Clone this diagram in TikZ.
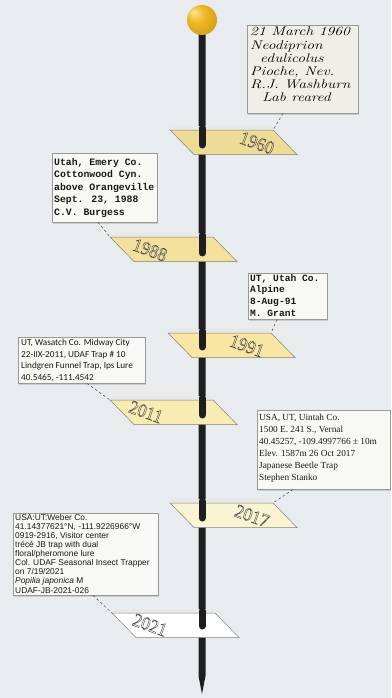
\documentclass[tikz,border=0pt]{standalone}
\usepackage{fontspec}
\usetikzlibrary{shadows,calc}
\newfontfamily\handfnt[FakeStretch=1.25]{Latin Modern Roman}
\newfontfamily\monofnt{Liberation Mono}
\newfontfamily\carlfnt{Carlito}
\newfontfamily\timesfnt{Liberation Serif}
\newfontfamily\arialfnt{Liberation Sans}
\newfontfamily\yearfnt[FakeStretch=0.92]{Liberation Serif}
\definecolor{bgc}{HTML}{E9ECEE}
\definecolor{stemc}{HTML}{1E1E1E}
\definecolor{goldhi}{HTML}{FBE39A}
\definecolor{goldmid}{HTML}{F0B927}
\definecolor{golddk}{HTML}{C98E12}
\definecolor{tagA}{HTML}{EEDC96}
\definecolor{tagB}{HTML}{F2E09C}
\definecolor{tagC}{HTML}{F8E6A2}
\definecolor{tagD}{HTML}{F9ECB2}
\definecolor{tagE}{HTML}{FBF4D2}
\definecolor{tagF}{HTML}{FFFFFF}
\definecolor{paperA}{HTML}{EFEEE7}
\definecolor{paperB}{HTML}{F8F8F5}
\pgfdeclareradialshading{goldball}{\pgfpoint{-14bp}{14bp}}{color(0bp)=(goldhi); color(14bp)=(goldmid); color(42bp)=(golddk); color(50bp)=(golddk)}
\newcommand{\yeartxt}[2]{\textcolor{#1}{\special{pdf:literal direct 2 Tr 0.45 w 0.33 G}#2\special{pdf:literal direct 0 Tr}}}
\begin{document}
\begin{tikzpicture}[x=1pt,y=-1pt,
  lab/.style={draw=black!40, line width=0.4pt, anchor=north west, inner sep=0pt,
    drop shadow={shadow xshift=1.2pt, shadow yshift=-1.5pt, opacity=0.3}},
  labtext/.style={anchor=north west, align=left, inner sep=0pt, text=black!90},
  conn/.style={draw=black!65, dash pattern=on 2.5pt off 2.5pt, line width=0.6pt},
  yearlab/.style={font=\yearfnt\fontsize{19}{19}\selectfont, rotate=-20, inner sep=0pt}]
\useasboundingbox (0,0) rectangle (391,698);
\fill[bgc] (0,0) rectangle (391,698);

% stem
\fill[stemc] (198.5,30) -- (205.5,30) -- (205.5,676) -- (202,694) -- (198.5,676) -- cycle;
\shade[shading=goldball] (202,20) circle (15pt);

% tags
\foreach \nm/\xl/\yt/\fc/\tx/\ty/\ys in {1960/170/130/tagA/257/143/145,
  1988/110/237/tagB/150/250/253, 1991/168/333/tagC/247/346/347,
  2011/110/400/tagD/146/412/415, 2017/170/503/tagE/252/516/518,
  2021/112/613/tagF/150/625/626}
{
  \fill[black!9] (\xl+3,\yt-4) -- (\xl+100,\yt-4) -- (\xl+103,\yt) -- (\xl,\yt) -- cycle;
  \filldraw[fill=\fc, draw=black!50, line width=0.5pt] (\xl,\yt) coordinate (t\nm-tl)
    -- (\xl+103,\yt) coordinate (t\nm-tr) -- (\xl+127,\yt+24.5) -- (\xl+24,\yt+24.5) -- cycle;
  \draw[stemc, line width=7pt, line cap=round] (202,\yt-2) -- (202,\ys);
  \node[yearlab] (y\nm) at (\tx,\ty) {\yeartxt{\fc}{\nm}};
}

% labels
\node[lab, fill=paperA, minimum width=111pt, minimum height=88pt] (l1960) at (247,25) {};
\node[labtext, text=black, font=\handfnt\itshape\fontsize{12.5}{13.2}\selectfont] (x1960) at (250,27)
  {21 March 1960\\Neodiprion\\\hspace*{10pt}edulicolus\\Pioche, Nev.\\R.J. Washburn\\\hspace*{12pt}Lab reared};

\node[lab, fill=paperB, minimum width=105pt, minimum height=69pt] (l1988) at (52,153) {};
\node[labtext, font=\monofnt\bfseries\fontsize{9.8}{12.5}\selectfont] (x1988) at (54,158)
  {Utah, Emery Co.\\Cottonwood Cyn.\\above Orangeville\\Sept. 23, 1988\\C.V. Burgess};

\node[lab, fill=paperB, minimum width=79pt, minimum height=46pt] (l1991) at (248,273) {};
\node[labtext, font=\monofnt\bfseries\fontsize{9.6}{11.7}\selectfont] (x1991) at (250,274)
  {UT, Utah Co.\\Alpine\\8-Aug-91\\M. Grant};

\node[lab, fill=paperB, minimum width=127pt, minimum height=46pt] (l2011) at (18,337) {};
\node[labtext, font=\carlfnt\fontsize{9.2}{11.7}\selectfont] (x2011) at (21,339)
  {UT, Wasatch Co. Midway City\\22-IIX-2011, UDAF Trap \# 10\\Lindgren Funnel Trap, Ips Lure\\40.5465, -111.4542};

\node[lab, fill=paperB, minimum width=133pt, minimum height=79pt] (l2017) at (257,410) {};
\node[labtext, font=\timesfnt\fontsize{9.3}{12}\selectfont] (x2017) at (259,414)
  {USA, UT, Uintah Co.\\1500 E. 241 S., Vernal\\40.45257, -109.4997766 ± 10m\\Elev. 1587m 26 Oct 2017\\Japanese Beetle Trap\\Stephen Stanko};

\node[lab, fill=paperB, minimum width=145pt, minimum height=82pt] (l2021) at (13,513) {};
\node[labtext, font=\arialfnt\fontsize{8.4}{9.1}\selectfont] (x2021) at (15,514)
  {USA:UT:Weber Co.\\41.14377621°N, -111.9226966°W\\0919-2916, Visitor center\\trécé JB trap with dual\\floral/pheromone lure\\Col. UDAF Seasonal Insect Trapper\\on 7/19/2021\\\textit{Popilia japonica} M\\UDAF-JB-2021-026};

% connectors
\coordinate (c1960) at ($(l1960.south west)+(36,0)$);
\coordinate (c1988) at ($(l1988.south west)+(46,0)$);
\coordinate (c1991) at ($(l1991.south west)+(29,0)$);
\coordinate (c2011) at ($(l2011.south west)+(69,0)$);
\coordinate (c2017) at ($(l2017.south west)+(36,0)$);
\coordinate (c2021) at ($(l2021.south west)+(80,0)$);
\draw[conn] (c1960) -- (t1960-tr);
\draw[conn] (c1988) -- (t1988-tl);
\draw[conn] (c1991) -- (t1991-tr);
\draw[conn] (c2011) -- (t2011-tl);
\draw[conn] (c2017) -- (t2017-tr);
\draw[conn] (c2021) -- (t2021-tl);
\end{tikzpicture}
\end{document}
